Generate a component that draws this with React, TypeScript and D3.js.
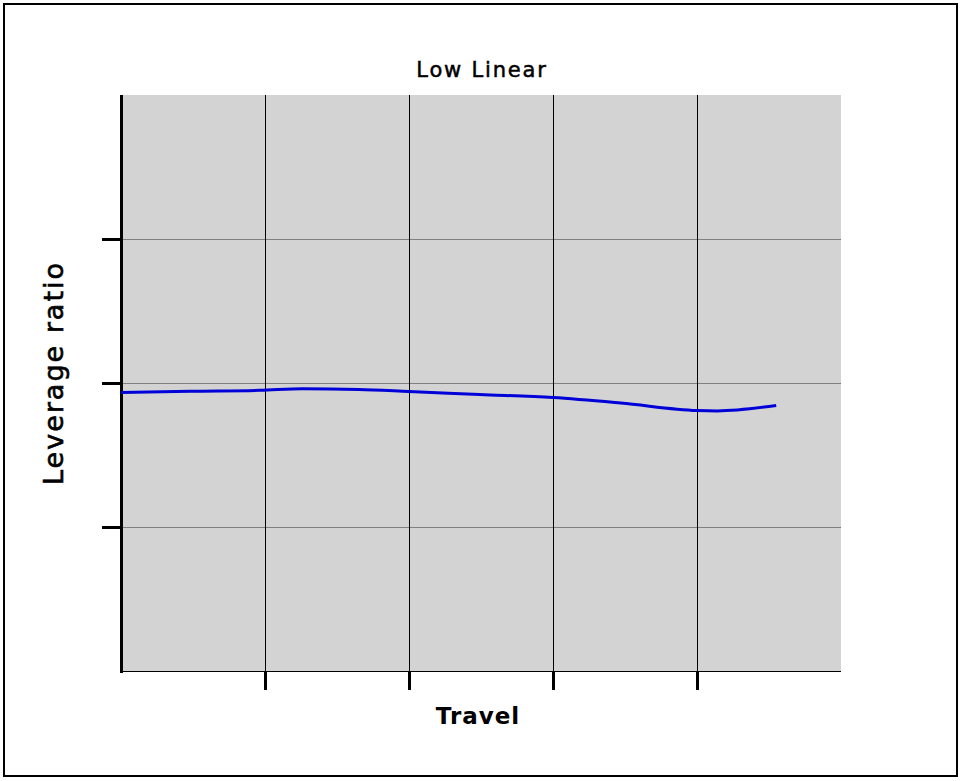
import React from "react";
import * as d3 from "d3";

const chartTitle = "Low Linear";
const xLabel = "Travel";
const yLabel = "Leverage ratio";

const xDomain = [0, 5];
const yDomain = [0, 4];
const xTicks = [1, 2, 3, 4];
const yTicks = [1, 2, 3];

const travel = [0, 0.48, 0.965, 1.26, 1.65, 2.0, 2.49, 3.0, 3.47, 4.0, 4.14, 4.55];
const leverage = [1.934, 1.943, 1.949, 1.96, 1.955, 1.941, 1.92, 1.899, 1.861, 1.809, 1.806, 1.844];

const W = 962;
const H = 781;
const M = { left: 121, right: 841, top: 95, bottom: 671 };

export default function App() {
  const x = d3.scaleLinear().domain(xDomain).range([M.left, M.right]);
  const y = d3.scaleLinear().domain(yDomain).range([M.bottom, M.top]);
  const pts: [number, number][] = travel.map((t, i) => [t, leverage[i]]);
  const line = d3
    .line<[number, number]>()
    .x((d) => x(d[0]))
    .y((d) => y(d[1]))
    .curve(d3.curveMonotoneX);

  return (
    <div style={{ position: "absolute", left: 0, top: 0 }}>
      <svg width={W} height={H} style={{ display: "block" }}>
        <rect x={0} y={0} width={W} height={H} fill="#fff" />
        <rect x={4} y={4} width={953} height={772} fill="none" stroke="#000" strokeWidth={2} />
        <rect
          x={M.left}
          y={M.top}
          width={M.right - M.left}
          height={M.bottom - M.top}
          fill="#d3d3d3"
        />
        {yTicks.map((t) => (
          <line
            key={"hg" + t}
            x1={M.left}
            x2={M.right}
            y1={Math.round(y(t)) + 0.5}
            y2={Math.round(y(t)) + 0.5}
            stroke="#808080"
            strokeWidth={1}
            shapeRendering="crispEdges"
          />
        ))}
        {xTicks.map((t) => (
          <line
            key={"vg" + t}
            x1={Math.round(x(t)) + 0.5}
            x2={Math.round(x(t)) + 0.5}
            y1={M.top}
            y2={M.bottom}
            stroke="#000"
            strokeWidth={1}
            shapeRendering="crispEdges"
          />
        ))}
        <line
          x1={M.left}
          x2={M.right}
          y1={M.bottom + 0.5}
          y2={M.bottom + 0.5}
          stroke="#000"
          strokeWidth={1}
          shapeRendering="crispEdges"
        />
        <line
          x1={M.left + 0.5}
          x2={M.left + 0.5}
          y1={M.top}
          y2={M.bottom + 2}
          stroke="#000"
          strokeWidth={3}
          shapeRendering="crispEdges"
        />
        {yTicks.map((t) => (
          <line
            key={"yt" + t}
            x1={102}
            x2={M.left}
            y1={Math.round(y(t)) + 0.5}
            y2={Math.round(y(t)) + 0.5}
            stroke="#000"
            strokeWidth={3}
            shapeRendering="crispEdges"
          />
        ))}
        {xTicks.map((t) => (
          <line
            key={"xt" + t}
            x1={Math.round(x(t)) + 0.5}
            x2={Math.round(x(t)) + 0.5}
            y1={M.bottom}
            y2={690}
            stroke="#000"
            strokeWidth={3}
            shapeRendering="crispEdges"
          />
        ))}
        <path d={line(pts) || ""} fill="none" stroke="#0000d8" strokeWidth={3} />
        <text
          x={482}
          y={77}
          textAnchor="middle"
          fontFamily="DejaVu Sans"
          fontSize={21}
          letterSpacing={1.8}
          fill="#000"
          stroke="#000"
          strokeWidth={0.5}
        >
          {chartTitle}
        </text>
        <text
          x={478}
          y={724}
          textAnchor="middle"
          fontFamily="DejaVu Sans"
          fontWeight="bold"
          fontSize={23}
          letterSpacing={1}
          fill="#000"
        >
          {xLabel}
        </text>
        <text
          transform="translate(63,373) rotate(-90)"
          textAnchor="middle"
          fontFamily="DejaVu Sans"
          fontSize={27}
          letterSpacing={2}
          fill="#000"
          stroke="#000"
          strokeWidth={0.6}
        >
          {yLabel}
        </text>
      </svg>
    </div>
  );
}
